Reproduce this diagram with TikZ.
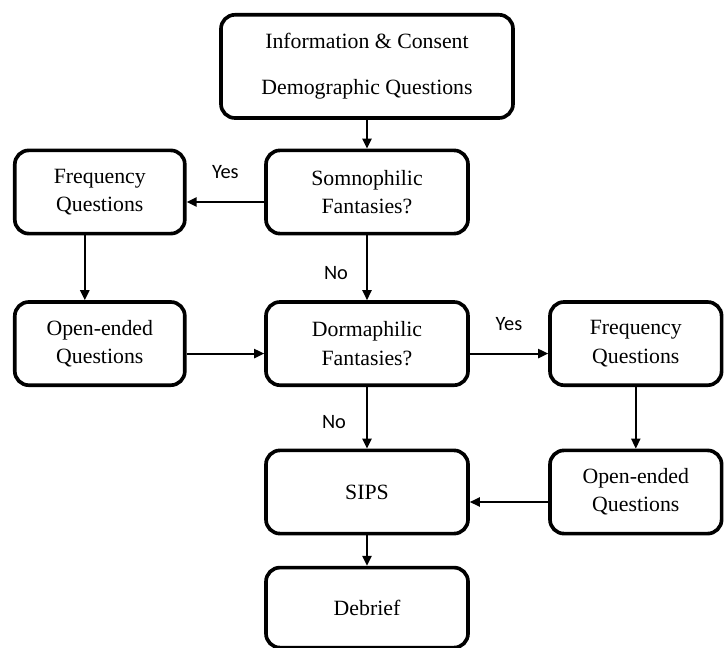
\documentclass[tikz,border=0pt]{standalone}
\usepackage{fontspec}
\setmainfont{Liberation Serif}
\newfontfamily\labelfont{Carlito}
\usetikzlibrary{arrows.meta,positioning}

\begin{document}
\begin{tikzpicture}[-{Triangle[length=2.5mm,width=2.3mm]},line width=1.3pt,on grid,
  box/.style={draw,rounded corners=3.5mm,line width=2.6pt,minimum width=5.05cm,
    minimum height=2.08cm,align=center,font=\fontsize{15.5}{20}\selectfont},
  side/.style={box,minimum width=4.25cm},
  lab/.style={font=\labelfont\fontsize{14.5}{17}\selectfont}]
  \useasboundingbox (0,0) rectangle (18.1,-16.2);

  \node[box,minimum width=7.3cm,minimum height=2.58cm] (I) at (9.175,-1.66)
        {Information \& Consent\\[0.45cm]Demographic Questions};
  \node[box]          (S)  [below=3.14cm of I]  {Somnophilic\\Fantasies?};
  \node[side]         (F1) [left=6.68cm of S]   {Frequency\\Questions};
  \node[box]          (D)  [below=3.79cm of S]  {Dormaphilic\\Fantasies?};
  \node[side]         (O1) [left=6.68cm of D]   {Open-ended\\Questions};
  \node[side,minimum width=4.29cm] (F2) [right=6.72cm of D] {Frequency\\Questions};
  \node[box]          (P)  [below=3.71cm of D]  {SIPS};
  \node[side,minimum width=4.29cm] (O2) [right=6.72cm of P] {Open-ended\\Questions};
  \node[box,minimum height=2cm] (E) [below=2.89cm of P] {Debrief};

  \path (I) edge (S)
        ([yshift=-2.5mm]S.west) edge node[lab,yshift=7.5mm] {Yes} ([yshift=-2.5mm]F1.east)
        ([xshift=-3.75mm]F1.south) edge ([xshift=-3.75mm]O1.north)
        (S) edge node[lab,xshift=-7.75mm,yshift=-1.25mm] {No} (D)
        ([yshift=-2.5mm]O1.east) edge ([yshift=-2.5mm]D.west)
        ([yshift=-2.5mm]D.east) edge node[lab,yshift=7.5mm] {Yes} ([yshift=-2.5mm]F2.west)
        (D) edge node[lab,xshift=-8.25mm,yshift=-1.1mm] {No} (P)
        (F2) edge (O2)
        ([yshift=-2.5mm]O2.west) edge ([yshift=-2.5mm]P.east)
        (P) edge (E);
\end{tikzpicture}
\end{document}
